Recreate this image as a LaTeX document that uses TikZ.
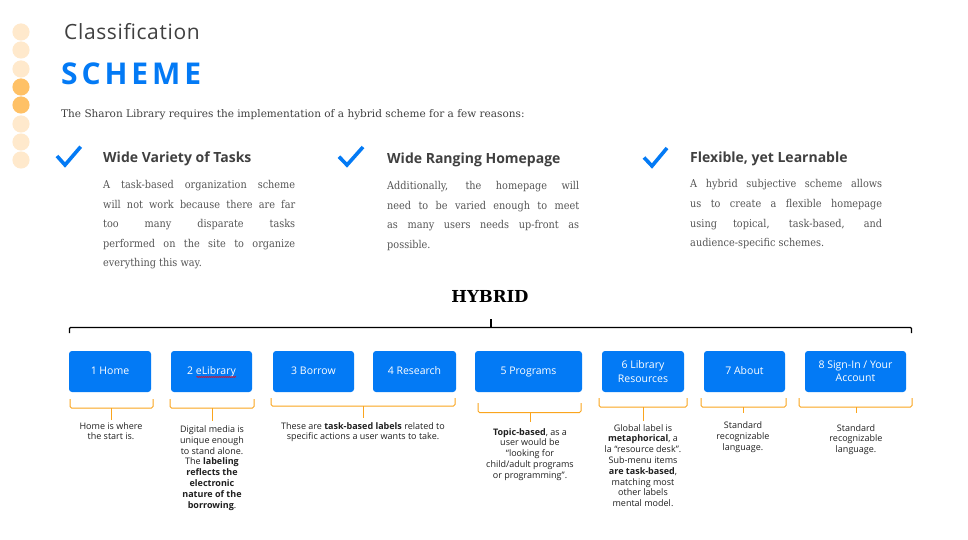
\documentclass[tikz,border=0pt]{standalone}
\usepackage{fontspec}
\setmainfont{DejaVu Serif}
\newfontfamily\paraserif[FakeStretch=0.9]{DejaVu Serif}
\newfontfamily\osans{Open Sans}
\newfontfamily\classfont[LetterSpace=3]{Open Sans}
\newfontfamily\schemefont[LetterSpace=13]{Open Sans}
\usetikzlibrary{decorations.pathmorphing}
\definecolor{sblue}{RGB}{3,122,245}
\definecolor{dotlight}{RGB}{255,233,204}
\definecolor{dotdark}{RGB}{255,193,102}
\definecolor{sorange}{RGB}{250,165,30}
\definecolor{dgray}{RGB}{64,64,64}
\definecolor{pgray}{RGB}{85,85,85}
\definecolor{agray}{RGB}{32,32,32}
\tikzset{
  navbox/.style={fill=sblue, rounded corners=3pt, text=white, align=center,
    font=\osans\fontsize{10.5}{13.3}\selectfont, inner sep=0pt},
  oneline/.style={text height=7.6pt, text depth=2.4pt},
  headtxt/.style={anchor=base west, inner sep=0pt, text=dgray,
    font=\osans\bfseries\fontsize{14}{16}\selectfont},
  paratxt/.style={anchor=north west, inner sep=0pt, text width=192pt, align=justify,
    text=pgray, font=\paraserif\fontsize{10.8}{19.6}\selectfont},
  annot/.style={anchor=north, inner sep=0pt, align=center, text=agray,
    font=\osans\fontsize{9}{10.8}\selectfont},
  checkmk/.style={draw=sblue, line width=3.6pt, miter limit=10},
  obrace/.style={draw=sorange, line width=1pt, rounded corners=1.5pt},
}
\begin{document}
\begin{tikzpicture}[x=1pt,y=-1pt]
\useasboundingbox[fill=white] (0,0) rectangle (968,540);
% dots
\foreach \yy/\cc in {32/dotlight,50/dotlight,69/dotlight,87/dotdark,105/dotdark,124/dotlight,142/dotlight,160/dotlight}
  \fill[\cc] (21,\yy) circle (8.6);
% titles
\node[anchor=base west, inner sep=0pt, text=dgray, font=\classfont\fontsize{21}{24}\selectfont] (t1) at (64,39.3) {Classification};
\node[anchor=base west, inner sep=0pt, text=sblue, font=\schemefont\bfseries\fontsize{30}{36}\selectfont] (t2) at (61,85) {SCHEME};
\node[anchor=base west, inner sep=0pt, text=dgray, font=\fontsize{10.5}{12}\selectfont] (intro) at (61,117.3) {The Sharon Library requires the implementation of a hybrid scheme for a few reasons:};
% checkmarks
\draw[checkmk] (57,156) -- (65,165) -- (80.7,146.7);
\draw[checkmk] (339,156.7) -- (347,165) -- (363,147);
\draw[checkmk] (644,157.5) -- (652,166) -- (667,148);
% headings
\node[headtxt] (h1) at (103,163) {Wide Variety of Tasks};
\node[headtxt] (h2) at (387,164) {Wide Ranging Homepage};
\node[headtxt] (h3) at (690,163) {Flexible, yet Learnable};
% paragraphs
\node[paratxt] (p1) at (103,180) {A task-based organization scheme\linebreak will not work because there are far\linebreak too many disparate tasks\linebreak performed on the site to organize\linebreak everything this way.};
\node[paratxt] (p2) at (387,181) {Additionally, the homepage will\linebreak need to be varied enough to meet\linebreak as many users needs up-front as\linebreak possible.};
\node[paratxt] (p3) at (690,179.5) {A hybrid subjective scheme allows\linebreak us to create a flexible homepage\linebreak using topical, task-based, and\linebreak audience-specific schemes.};
% hybrid
\node[anchor=base, inner sep=0pt, text=black, font=\bfseries\fontsize{16.5}{18}\selectfont] (hyb) at (490,302) {HYBRID};
\coordinate (bl) at (69.5,333);
\coordinate (br) at (911.5,333);
\coordinate (bm) at (491,327.5);
\draw[line width=1.2pt, rounded corners=1pt] (bl) -- (69.5,327.5) -- (911.5,327.5) -- (br);
\draw[line width=1.2pt] (bm) -- (491,319);
% boxes
\node[navbox, oneline, minimum width=82pt, minimum height=41pt] (b1) at (110,371.5) {1 Home};
\node[navbox, oneline, minimum width=81pt, minimum height=41pt] (b2) at (211.5,371.5) {2 eLibrary};
\node[navbox, oneline, minimum width=81pt, minimum height=41pt] (b3) at (313.5,371.5) {3 Borrow};
\node[navbox, oneline, minimum width=83pt, minimum height=41pt] (b4) at (414.5,371.5) {4 Research};
\node[navbox, oneline, minimum width=107pt, minimum height=41pt] (b5) at (528.5,371.5) {5 Programs};
\node[navbox, minimum width=82pt, minimum height=41pt] (b6) at (643,371.5) {6 Library\\Resources};
\node[navbox, oneline, minimum width=81pt, minimum height=41pt] (b7) at (744.5,371.5) {7 About};
\node[navbox, minimum width=101pt, minimum height=41pt] (b8) at (855.5,371.5) {8 Sign-In / Your\\Account};
\draw[red, line width=0.5pt, decorate, decoration={snake, amplitude=0.6pt, segment length=2pt}] (196.5,377) -- (236,377);
% orange braces
\draw[obrace] (70,399) -- (70,408) -- (153,408) -- (153,399);
\draw[obrace] (111,408) -- (111,420);
\draw[obrace] (170,399) -- (170,408) -- (254,408) -- (254,399);
\draw[obrace] (212,408) -- (212,421);
\draw[obrace] (271,398) -- (271,406) -- (455,406) -- (455,398);
\draw[obrace] (363,406) -- (363,418);
\draw[obrace] (478,403) -- (478,412.5) -- (581,412.5) -- (581,403);
\draw[obrace] (530,412.5) -- (530,421.5);
\draw[obrace] (599,398) -- (599,407) -- (687,407) -- (687,398);
\draw[obrace] (643,407) -- (643,420.5);
\draw[obrace] (701,398) -- (701,407) -- (786,407) -- (786,398);
\draw[obrace] (743,407) -- (743,413);
\draw[obrace] (799,398) -- (799,407) -- (912,407) -- (912,398);
\draw[obrace] (856,407) -- (856,413);
% annotations
\node[annot] (a1) at (111,422) {Home is where\\the start is.};
\node[annot] (a2) at (212,425.5) {Digital media is\\unique enough\\to stand alone.\\The \textbf{labeling}\\\textbf{reflects the}\\\textbf{electronic}\\\textbf{nature of the}\\\textbf{borrowing}.};
\node[annot] (a3) at (363,422) {These are \textbf{task-based labels} related to\\specific actions a user wants to take.};
\node[annot] (a5) at (530,428) {\textbf{Topic-based}, as a\\user would be\\“looking for\\child/adult programs\\or programming”.};
\node[annot] (a6) at (643,424) {Global label is\\\textbf{metaphorical}, a\\la “resource desk”.\\Sub-menu items\\\textbf{are task-based},\\matching most\\other labels\\mental model.};
\node[annot] (a7) at (743,421.5) {Standard\\recognizable\\language.};
\node[annot] (a8) at (856,424) {Standard\\recognizable\\language.};
\end{tikzpicture}
\end{document}
